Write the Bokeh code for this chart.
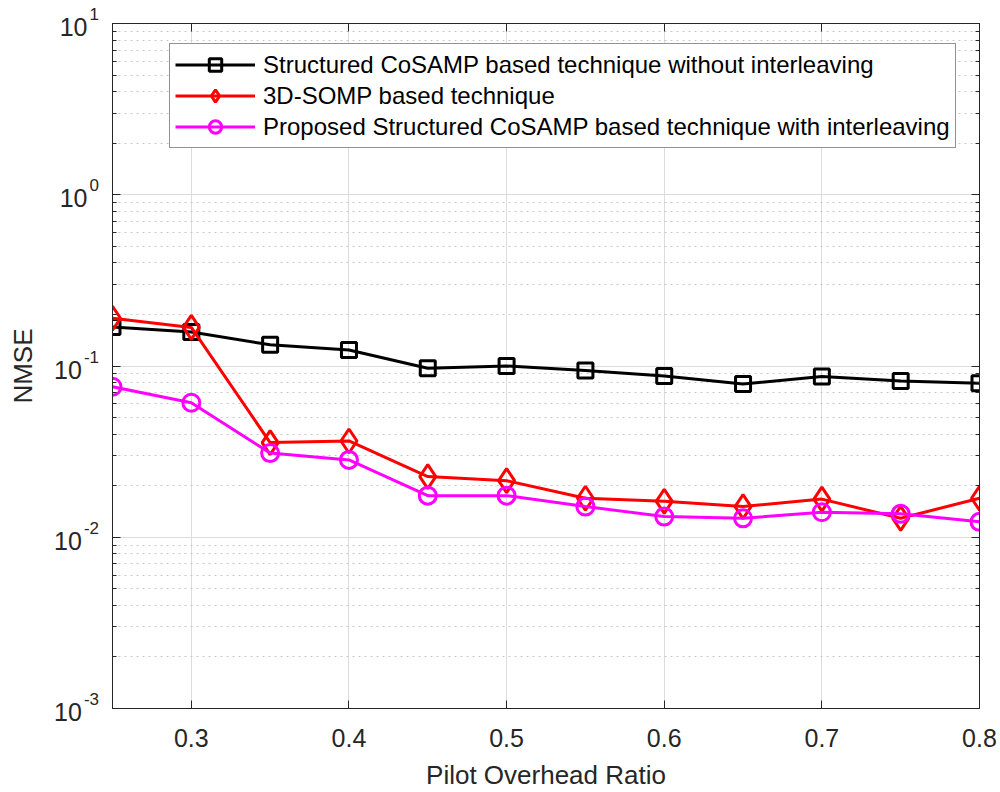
import math
from bokeh.plotting import figure
from bokeh.layouts import row
from bokeh.models import (FixedTicker, LinearAxis, LogAxis, CustomJSTickFormatter,
                          Legend, LegendItem, Div)
from bokeh.embed import file_html
from bokeh.resources import INLINE

# Pilot overhead ratios and NMSE per technique
ratio = [0.25, 0.30, 0.35, 0.40, 0.45, 0.50, 0.55, 0.60, 0.65, 0.70, 0.75, 0.80]
nmse_cosamp = [0.169, 0.158, 0.133, 0.124, 0.097, 0.100, 0.094, 0.0875, 0.0785, 0.0867, 0.0818, 0.0793]
nmse_somp = [0.190, 0.168, 0.0357, 0.0365, 0.0226, 0.0214, 0.0169, 0.0162, 0.0151, 0.0167, 0.0129, 0.0169]
nmse_proposed = [0.0757, 0.0610, 0.0310, 0.0283, 0.0175, 0.0175, 0.0151, 0.0132, 0.0129, 0.0140, 0.0137, 0.0123]

names = ["Structured CoSAMP based technique without interleaving",
         "3D-SOMP based technique",
         "Proposed Structured CoSAMP based technique with interleaving"]

x_ticks = [0.3, 0.4, 0.5, 0.6, 0.7, 0.8]
y_exponents = [-3, -2, -1, 0, 1]
y_decades = [10.0 ** e for e in y_exponents]
y_minor = [m * d for d in y_decades[:-1] for m in range(2, 10)]

FONT = "Liberation Sans"
AX = "#262626"
TICK_PX = 25
SUP_PX = 17

# overall geometry
LEFT, RIGHT, TOP, BOTTOM = 112, 21, 23, 84
FW, FH = 867, 685
H = TOP + FH + BOTTOM

p = figure(frame_width=FW, frame_height=FH, x_range=(0.25, 0.8), y_range=(1e-3, 10),
           y_axis_type="log", output_backend="svg", toolbar_location=None, title=None,
           min_border_left=0, min_border_right=RIGHT, min_border_top=TOP,
           min_border_bottom=BOTTOM,
           background_fill_color="white", border_fill_color="white")

p.outline_line_color = AX
p.outline_line_width = 1

xt = FixedTicker(ticks=x_ticks)
yt = FixedTicker(ticks=y_decades, minor_ticks=y_minor)
blank_fmt = CustomJSTickFormatter(code="return '';")

p.xaxis.ticker = xt
p.yaxis.ticker = yt
p.yaxis.formatter = blank_fmt
p.xgrid.ticker = xt
p.ygrid.ticker = yt

for ax in (p.xaxis[0], p.yaxis[0]):
    ax.axis_line_color = AX
    ax.major_tick_in = 8
    ax.major_tick_out = 0
    ax.minor_tick_in = 4
    ax.minor_tick_out = 0
    ax.major_tick_line_color = AX
    ax.minor_tick_line_color = AX
    ax.major_label_text_font = FONT
    ax.major_label_text_font_size = f"{TICK_PX}px"
    ax.major_label_text_color = AX
    ax.axis_label_text_font = FONT
    ax.axis_label_text_font_size = "26px"
    ax.axis_label_text_font_style = "normal"
    ax.axis_label_text_color = AX

p.xaxis.minor_tick_line_color = None
p.xaxis.axis_label = "Pilot Overhead Ratio"
p.xaxis.major_label_standoff = 20
p.xaxis.axis_label_standoff = 10
p.yaxis.major_label_standoff = 0

# mirrored axes on top and right, ticks only
top = LinearAxis(ticker=xt, formatter=blank_fmt, major_tick_in=8, major_tick_out=0,
                 minor_tick_line_color=None, axis_line_color=AX, major_tick_line_color=AX,
                 major_label_standoff=0)
right = LogAxis(ticker=yt, formatter=blank_fmt, major_tick_in=8, major_tick_out=0,
                minor_tick_in=4, minor_tick_out=0, axis_line_color=AX,
                major_tick_line_color=AX, minor_tick_line_color=AX, major_label_standoff=0)
p.add_layout(top, "above")
p.add_layout(right, "right")

p.xgrid.grid_line_color = "#dcdcdc"
p.ygrid.grid_line_color = "#dcdcdc"
p.ygrid.minor_grid_line_color = "#c8c8c8"
p.ygrid.minor_grid_line_dash = "2 4"

series = [
    (nmse_cosamp, "#000000", "square", 15),
    (nmse_somp, "#ff0000", "diamond", 24),
    (nmse_proposed, "#ff00ff", "circle", 17),
]

items = []
for vals, color, marker, size in series:
    ln = p.line(ratio, vals, line_color=color, line_width=3)
    sc = p.scatter(ratio, vals, marker=marker, size=size, line_color=color,
                   line_width=3, fill_color=None)
    items.append((ln, sc))

legend = Legend(items=[LegendItem(label=n, renderers=list(r)) for n, r in zip(names, items)],
                location=(57, 560), label_text_font=FONT, label_text_font_size="24px",
                label_text_color="#000000", glyph_width=80, glyph_height=31,
                label_height=31, spacing=0, padding=5, label_standoff=8,
                border_line_color=AX, border_line_width=1, background_fill_alpha=1,
                background_fill_color="white", margin=0)
p.add_layout(legend, "center")

# left strip: y-axis title and decade labels written as 10 with a superscript exponent,
# placed with the same log scale as the plot frame
px_per_decade = FH / (math.log10(10) - math.log10(1e-3))


def y_px(v):
    return TOP + (math.log10(10) - math.log10(v)) * px_per_decade


parts = []
for e, d in zip(y_exponents, y_decades):
    parts.append(
        f'<div style="position:absolute;right:13px;top:{y_px(d):.1f}px;'
        f'transform:translateY(-50%);font-size:{TICK_PX}px;line-height:{TICK_PX}px;'
        f'white-space:nowrap;">'
        f'<span style="position:relative;top:6px;">10</span>'
        f'<span style="position:relative;top:-10px;margin-left:2px;font-size:{SUP_PX}px;">{e}</span>'
        f'</div>')
mid = y_px(10 ** ((math.log10(1e-3) + math.log10(10)) / 2))
parts.append(
    f'<div style="position:absolute;left:23px;top:{mid:.1f}px;font-size:26px;line-height:26px;'
    f'transform:translate(-50%,-50%) rotate(-90deg);white-space:nowrap;">NMSE</div>')

html = (f'<div style="position:relative;width:{LEFT}px;height:{H}px;'
        f'font-family:\'{FONT}\';color:{AX};background:white;">' + "".join(parts) + '</div>')
side = Div(text=html, width=LEFT, height=H, margin=0)

open("out.html", "w").write(file_html(row(side, p), INLINE))
